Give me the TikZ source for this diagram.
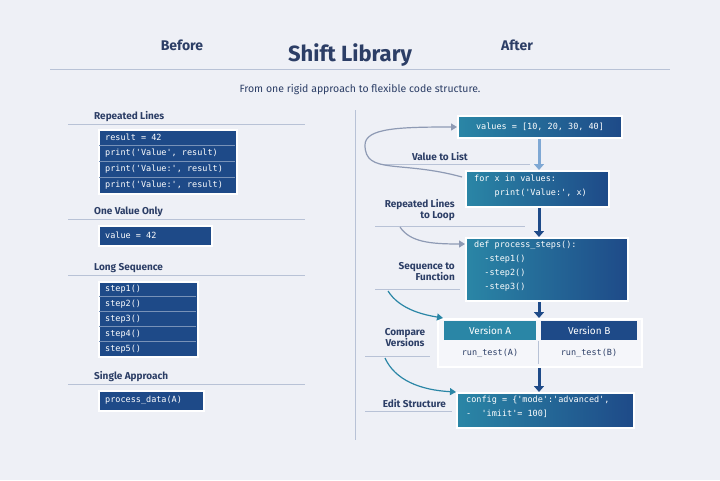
\documentclass[tikz,border=0pt]{standalone}
\usepackage{fontspec}
\setmainfont{Fira Sans}
\setmonofont{DejaVu Sans Mono}
\usetikzlibrary{arrows.meta}
\definecolor{bgc}{HTML}{EEF0F6}
\definecolor{ink}{HTML}{2C3E66}
\definecolor{deep}{HTML}{1E4A88}
\definecolor{tealc}{HTML}{2A86A6}
\definecolor{linec}{HTML}{B8C2D6}
\definecolor{lightarr}{HTML}{7FA8D4}
\tikzset{
  lbl/.style={text=ink,font=\fontsize{10}{11}\selectfont\bfseries,inner sep=0},
  rlbl/.style={lbl,align=right},
  codebox/.style={draw=white,line width=2pt,left color=tealc,right color=deep,rectangle,inner sep=0},
  dbox/.style={draw=white,line width=2pt,fill=deep,inner sep=0},
  code/.style={text=white,font=\ttfamily\fontsize{8.5}{14}\selectfont,inner sep=0,align=left},
  sep/.style={draw=linec,line width=0.6pt},
  rowsep/.style={draw=white!40!deep,line width=0.4pt},
  darr/.style={-{Triangle[length=6pt,width=10pt]},line width=3pt,draw=deep},
  larr/.style={-{Triangle[length=6pt,width=10pt]},line width=3pt,draw=lightarr},
  carr/.style={-{Triangle[length=6pt,width=7pt]},line width=1.2pt,draw=#1},
}
\begin{document}
\begin{tikzpicture}[x=1pt,y=-1pt]
\fill[bgc] (0,0) rectangle (720,480);
\useasboundingbox (0,0) rectangle (720,480);
% header
\node[text=ink,font=\fontsize{22}{24}\selectfont\bfseries] (title) at (350,55) {Shift Library};
\node[text=ink,font=\fontsize{14}{16}\selectfont\bfseries] (before) at (182,45) {Before};
\node[text=ink,font=\fontsize{14}{16}\selectfont\bfseries] (after) at (517,45) {After};
\draw[sep,line width=0.8pt] (50,69) -- (670,69);
\node[text=ink,font=\fontsize{10.5}{12}\selectfont] (sub) at (360,90) {From one rigid approach to flexible code structure.};
\draw[sep,line width=0.8pt] (355,110) -- (355,440);
% ---- left
\node[lbl,anchor=west] (l1) at (94,117) {Repeated Lines};
\draw[sep] (68,124) -- (305,124);
\node[dbox,minimum width=138,minimum height=64,anchor=north west] (b1) at (98,129) {};
\node[code,anchor=west] (r0) at (105,137) {result = 42};
\node[code,anchor=west] (r1) at (105,153) {print('Value', result)};
\node[code,anchor=west] (r2) at (105,169) {print('Value:', result)};
\node[code,anchor=west] (r3) at (105,185) {print('Value:', result)};
\foreach \i in {1,2,3}{\draw[rowsep] (99,129+16*\i) -- (235,129+16*\i);}
\node[lbl,anchor=west] (l2) at (94,212) {One Value Only};
\draw[sep] (68,219) -- (305,219);
\node[dbox,minimum width=113,minimum height=20,anchor=north west] (b2) at (98,225) {};
\node[code,anchor=west] at (105,235) {value = 42};
\node[lbl,anchor=west] (l3) at (94,268) {Long Sequence};
\draw[sep] (68,275) -- (305,275);
\node[dbox,minimum width=99,minimum height=75,anchor=north west] (b3) at (98,281) {};
\foreach \i in {1,...,5}{\node[code,anchor=west] at (105,274+15*\i) {step\i()};}
\foreach \i in {1,...,4}{\draw[rowsep] (99,281+15*\i) -- (196,281+15*\i);}
\node[lbl,anchor=west] (l4) at (94,377) {Single Approach};
\draw[sep] (68,384) -- (305,384);
\node[dbox,minimum width=105,minimum height=20,anchor=north west] (b4) at (98,390) {};
\node[code,anchor=west] at (105,400) {process\_data(A)};
% ---- right
\node[codebox,minimum width=164,minimum height=22] (v) at (540,127) {};
\node[code] at (v) {values = [10, 20, 30, 40]};
\node[codebox,minimum width=143,minimum height=36,anchor=north west] (f) at (465,170) {};
\node[code,anchor=north west] at (474,175) {for x in values:\\\ \ \ \ print('Value:', x)};
\node[codebox,minimum width=162,minimum height=63,anchor=north west] (d) at (465,237) {};
\node[code,anchor=north west] at (474,241) {def process\_steps():\\\ \ -step1()\\\ \ -step2()\\\ \ -step3()};
\node[draw=white,line width=2pt,fill=bgc!60!white,minimum width=204,minimum height=48,anchor=north west,inner sep=0] (vg) at (437,318) {};
\node[fill=tealc,minimum width=92,minimum height=19,anchor=north west,inner sep=0,text=white,font=\fontsize{10}{11}\selectfont] (va) at (444,321) {Version A};
\node[fill=deep,minimum width=96,minimum height=19,anchor=north west,inner sep=0,text=white,font=\fontsize{10}{11}\selectfont] (vb) at (541,321) {Version B};
\draw[linec] (538,341) -- (538,364);
\node[code,text=ink] (ra) at (490,353) {run\_test(A)};
\node[code,text=ink] (rb) at (589,353) {run\_test(B)};
\node[codebox,minimum width=177,minimum height=35,anchor=north west] (c) at (456,392) {};
\node[code,anchor=north west] at (466,396) {config = \{'mode':'advanced',\\- \ 'imiit'= 100]};
% arrows
\draw[larr] (v.south -| 539,0) -- (f.north -| 539,0);
\draw[darr] (f.south -| 539,0) -- (d.north -| 539,0);
\draw[darr] (d.south -| 539,0) -- (vg.north -| 539,0);
\draw[darr] (vg.south -| 539,0) -- (c.north -| 539,0);
% labels right
\node[lbl,anchor=east] (t1) at (468,157) {Value to List};
\draw[sep] (380,164) -- (530,164);
\coordinate (fl) at (462,177);
\draw[carr=linec!70!ink] (fl) .. controls (400,160) and (365,175) .. (365,145) .. controls (365,128) and (400,127) .. (v.west);
\node[rlbl,anchor=east] (t2) at (455,210) {Repeated Lines\\to Loop};
\draw[sep] (375,226) -- (525,226);
\coordinate (s2) at (400,227);
\draw[carr=linec!70!ink] (s2) .. controls (410,242) and (430,244) .. (d.west |- 0,244);
\node[rlbl,anchor=east] (t3) at (455,272) {Sequence to\\Function};
\draw[sep] (375,289) -- (460,289);
\coordinate (s3) at (388,291);
\draw[carr=tealc] (s3) .. controls (400,310) and (425,315) .. (443,318);
\node[lbl,align=center] (t4) at (405,338) {Compare\\Versions};
\draw[sep] (365,356) -- (430,356);
\coordinate (s4) at (385,358);
\draw[carr=tealc] (s4) .. controls (395,380) and (420,390) .. (c.west |- 0,392);
\node[lbl,anchor=east] (t5) at (446,404) {Edit Structure};
\draw[sep] (365,411) -- (452,411);
\end{tikzpicture}
\end{document}
